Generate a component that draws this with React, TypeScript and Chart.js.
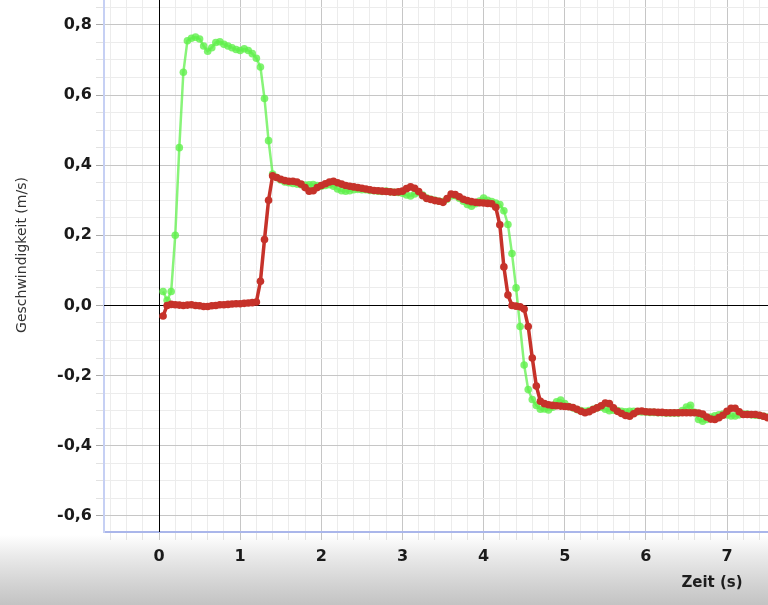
import React, { useEffect, useRef } from 'react';
import { Chart, registerables } from 'chart.js';

Chart.register(...registerables);

// sample timing of the recording (seconds)
const T0 = 0.05;
const DT = 0.05;

// green series (m/s), one value per sample
const greenValues = [
  0.04, 0.015, 0.04, 0.2, 0.45, 0.665, 0.755, 0.762, 0.765, 0.76,
  0.74, 0.725, 0.735, 0.75, 0.752, 0.745, 0.74, 0.735, 0.73, 0.727,
  0.732, 0.727, 0.718, 0.705, 0.68, 0.59, 0.47, 0.375, 0.365, 0.358,
  0.352, 0.35, 0.348, 0.346, 0.344, 0.343, 0.344, 0.345, 0.342, 0.34,
  0.342, 0.344, 0.34, 0.332, 0.327, 0.326, 0.327, 0.33, 0.331, 0.33,
  0.33, 0.328, 0.327, 0.326, 0.325, 0.326, 0.324, 0.323, 0.322, 0.32,
  0.315, 0.312, 0.318, 0.322, 0.315, 0.306, 0.303, 0.3, 0.297, 0.296,
  0.303, 0.312, 0.313, 0.306, 0.297, 0.288, 0.283, 0.29, 0.298, 0.306,
  0.3, 0.296, 0.292, 0.288, 0.27, 0.231, 0.148, 0.05, -0.06, -0.17,
  -0.24, -0.268, -0.285, -0.296, -0.295, -0.298, -0.29, -0.275, -0.27, -0.28,
  -0.288, -0.292, -0.297, -0.3, -0.302, -0.3, -0.296, -0.292, -0.29, -0.296,
  -0.3, -0.299, -0.3, -0.302, -0.303, -0.302, -0.302, -0.303, -0.304, -0.304,
  -0.305, -0.305, -0.306, -0.306, -0.307, -0.307, -0.307, -0.307, -0.3, -0.29,
  -0.285, -0.305, -0.325, -0.33, -0.325, -0.318, -0.315, -0.312, -0.31, -0.312,
  -0.315, -0.315, -0.312, -0.31, -0.31, -0.312, -0.313, -0.314, -0.316, -0.318,
];

// red series (m/s), one value per sample
const redValues = [
  -0.03, 0.0, 0.003, 0.002, 0.001, 0.0, 0.001, 0.002, 0.0, -0.001,
  -0.003, -0.003, -0.001, 0.0, 0.002, 0.002, 0.003, 0.004, 0.005, 0.005,
  0.006, 0.007, 0.008, 0.01, 0.069, 0.188, 0.3, 0.37, 0.365, 0.36,
  0.356, 0.354, 0.354, 0.352, 0.346, 0.336, 0.326, 0.327, 0.336, 0.342,
  0.347, 0.352, 0.354, 0.35, 0.346, 0.342, 0.34, 0.338, 0.336, 0.334,
  0.332, 0.33, 0.328, 0.327, 0.326, 0.325, 0.324, 0.323, 0.324, 0.326,
  0.333, 0.338, 0.334, 0.325, 0.313, 0.305, 0.302, 0.299, 0.297, 0.294,
  0.305, 0.318, 0.316, 0.31, 0.303, 0.299, 0.296, 0.294, 0.293, 0.292,
  0.291, 0.29, 0.28, 0.23, 0.11, 0.03, 0.0, -0.002, -0.004, -0.01,
  -0.06, -0.15, -0.23, -0.273, -0.28, -0.283, -0.285, -0.286, -0.287, -0.288,
  -0.289, -0.291, -0.296, -0.302, -0.306, -0.303, -0.297, -0.292, -0.286, -0.278,
  -0.28, -0.292, -0.302, -0.308, -0.314, -0.316, -0.309, -0.302, -0.301, -0.303,
  -0.304, -0.304, -0.305, -0.305, -0.306, -0.306, -0.306, -0.306, -0.306, -0.306,
  -0.306, -0.306, -0.307, -0.31, -0.318, -0.324, -0.325, -0.32, -0.313, -0.302,
  -0.293, -0.293, -0.303, -0.311, -0.311, -0.311, -0.311, -0.313, -0.316, -0.32,
];

// axis ranges and ticks
const X_MIN = -0.678;
const X_MAX = 7.505;
const Y_MIN = -0.646;
const Y_MAX = 0.871;
const xTickValues: number[] = [];
for (let k = -3; k <= 37; k++) xTickValues.push(k / 5);
const yTickValues: number[] = [];
for (let k = -12; k <= 17; k++) yTickValues.push(k / 20);

const yTitle = 'Geschwindigkeit (m/s)';
const xTitle = 'Zeit (s)';

const isXMajor = (v: number) => Math.abs(v - Math.round(v)) < 1e-6;
const isYMajor = (v: number) => Math.abs(v * 5 - Math.round(v * 5)) < 1e-6;

const toPoints = (vals: number[]) =>
  vals.map((y, i) => ({ x: Math.round((T0 + i * DT) * 1000) / 1000, y }));

const zeroAxesPlugin = {
  id: 'zeroAxes',
  beforeDatasetsDraw(chart: any) {
    const { ctx, chartArea, scales } = chart;
    const x0 = Math.round(scales.x.getPixelForValue(0)) + 0.5;
    const y0 = Math.round(scales.y.getPixelForValue(0)) + 0.5;
    ctx.save();
    ctx.strokeStyle = '#000';
    ctx.lineWidth = 1;
    ctx.beginPath();
    ctx.moveTo(x0, chartArea.top);
    ctx.lineTo(x0, chartArea.bottom);
    ctx.moveTo(chartArea.left, y0);
    ctx.lineTo(chartArea.right, y0);
    ctx.stroke();
    ctx.restore();
  },
};

const titlePlugin = {
  id: 'axisTitles',
  afterDraw(chart: any) {
    const ctx = chart.ctx;
    ctx.save();
    ctx.fillStyle = '#333';
    ctx.font = "14px 'DejaVu Sans'";
    ctx.textAlign = 'center';
    ctx.textBaseline = 'middle';
    ctx.translate(22, 255);
    ctx.rotate(-Math.PI / 2);
    ctx.fillText(yTitle, 0, 0);
    ctx.restore();

    ctx.save();
    ctx.fillStyle = '#1e1e1e';
    ctx.font = "bold 15px 'DejaVu Sans'";
    ctx.textAlign = 'center';
    ctx.textBaseline = 'middle';
    ctx.fillText(xTitle, 712, 583);
    ctx.restore();
  },
};

const noPad = (s: any) => {
  s.paddingTop = 0;
  s.paddingBottom = 0;
  s.paddingLeft = 0;
  s.paddingRight = 0;
};

export default function App() {
  const ref = useRef<HTMLCanvasElement | null>(null);

  useEffect(() => {
    if (!ref.current) return;
    const chart = new Chart(ref.current, {
      type: 'line',
      data: {
        datasets: [
          {
            label: 'rot',
            data: toPoints(redValues),
            borderColor: 'rgb(198,50,42)',
            backgroundColor: 'rgb(198,50,42)',
            pointBackgroundColor: 'rgb(198,50,42)',
            borderWidth: 3.5,
            pointRadius: 3.8,
            pointBorderWidth: 0,
            tension: 0,
            order: 0,
          },
          {
            label: 'grün',
            data: toPoints(greenValues),
            borderColor: 'rgba(96,240,76,0.75)',
            backgroundColor: 'rgba(96,240,76,0.8)',
            pointBackgroundColor: 'rgba(96,240,76,0.8)',
            borderWidth: 2.5,
            pointRadius: 3.8,
            pointBorderWidth: 0,
            tension: 0,
            order: 1,
          },
        ],
      },
      options: {
        responsive: false,
        animation: false,
        layout: { padding: 0, autoPadding: false },
        plugins: { legend: { display: false }, tooltip: { enabled: false } },
        scales: {
          x: {
            type: 'linear',
            min: X_MIN,
            max: X_MAX,
            afterFit: (s: any) => {
              s.height = 73;
              noPad(s);
            },
            afterBuildTicks: (s: any) => {
              s.ticks = xTickValues.map((v) => ({ value: v }));
            },
            border: { color: '#aab6ea', width: 2 },
            grid: {
              color: (c: any) => (isXMajor(c.tick.value) ? '#c6c6c6' : '#ececec'),
              tickColor: (c: any) => (isXMajor(c.tick.value) ? '#c4c4c4' : '#e2e2e2'),
              tickLength: 8,
              lineWidth: 1,
            },
            ticks: {
              autoSkip: false,
              maxRotation: 0,
              padding: 7,
              color: '#1a1a1a',
              font: { family: 'DejaVu Sans', size: 16, weight: 'bold' },
              callback: (v: any) => (isXMajor(Number(v)) ? String(Math.round(Number(v))) : ''),
            },
          },
          y: {
            type: 'linear',
            min: Y_MIN,
            max: Y_MAX,
            afterFit: (s: any) => {
              s.width = 104;
              noPad(s);
            },
            afterBuildTicks: (s: any) => {
              s.ticks = yTickValues.map((v) => ({ value: v }));
            },
            border: { color: '#c6d0f4', width: 2 },
            grid: {
              color: (c: any) => (isYMajor(c.tick.value) ? '#c6c6c6' : '#ececec'),
              tickColor: (c: any) => (isYMajor(c.tick.value) ? '#aaaaaa' : '#e2e2e2'),
              tickLength: 8,
              lineWidth: 1,
            },
            ticks: {
              autoSkip: false,
              padding: 4,
              color: '#1a1a1a',
              font: { family: 'DejaVu Sans', size: 16, weight: 'bold' },
              callback: (v: any) =>
                isYMajor(Number(v)) ? (Math.round(Number(v) * 10) / 10).toFixed(1).replace('.', ',') : '',
            },
          },
        },
      },
      plugins: [zeroAxesPlugin, titlePlugin],
    } as any);
    return () => chart.destroy();
  }, []);

  return (
    <div
      style={{
        position: 'absolute',
        left: 0,
        top: 0,
        width: 768,
        height: 605,
        overflow: 'hidden',
        background:
          'linear-gradient(to bottom, #ffffff 0px, #ffffff 535px, #ebebeb 555px, #d2d2d2 585px, #c3c3c3 605px)',
      }}
    >
      <canvas ref={ref} width={768} height={605} style={{ display: 'block' }} />
    </div>
  );
}
